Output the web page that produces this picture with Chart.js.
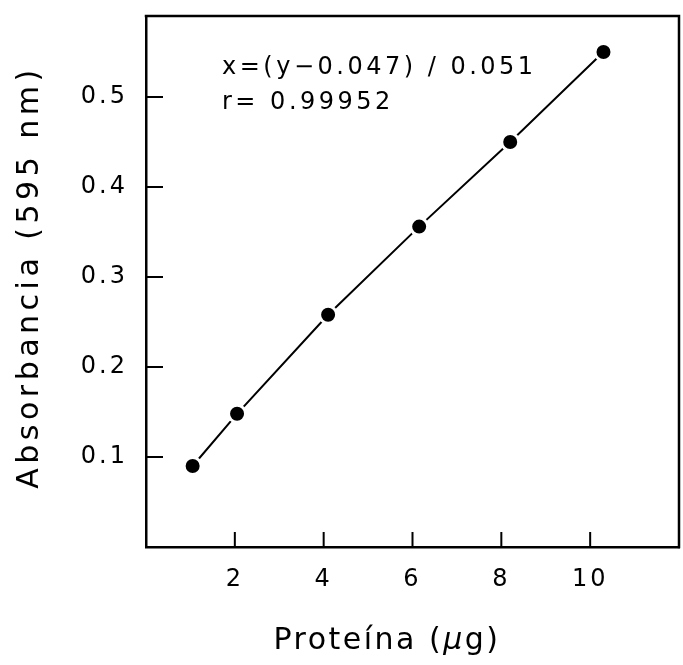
<!DOCTYPE html>
<html>
<head>
<meta charset="utf-8">
<script src="https://cdn.jsdelivr.net/npm/chart.js@4.4.1/dist/chart.umd.min.js"></script>
<style>
  html, body { margin: 0; padding: 0; background: #fff; }
  #wrap { width: 683px; height: 665px; }
</style>
</head>
<body>
<div id="wrap"><canvas id="c" width="683" height="665"></canvas></div>
<script>
// Data
const proteinUg = [1.05, 2.05, 4.1, 6.15, 8.2, 10.3];
const absorbance = [0.090, 0.148, 0.258, 0.356, 0.450, 0.550];
const xTickValues = [2, 4, 6, 8, 10];
const yTickValues = [0.1, 0.2, 0.3, 0.4, 0.5];
const xTitle = ['Proteína (', 'µ', 'g)'];
const yTitle = 'Absorbancia (595 nm)';
const fitText = ['x=(y\u22120.047) / 0.051', 'r= 0.99952'];

const FONT = '"DejaVu Sans", sans-serif';

const spacingPlugin = {
  id: 'spacing',
  beforeUpdate(chart) { chart.ctx.letterSpacing = '3px'; },
  beforeDraw(chart) { chart.ctx.letterSpacing = '3px'; }
};

function zeroPad(s) {
  s.paddingTop = 0; s.paddingBottom = 0; s.paddingLeft = 0; s.paddingRight = 0;
}

const framePlugin = {
  id: 'frame',
  afterDraw(chart) {
    const ctx = chart.ctx;
    const a = chart.chartArea;
    const xs = chart.scales.x, ys = chart.scales.y;
    ctx.save();
    ctx.strokeStyle = '#000';
    ctx.lineCap = 'square';
    // top and right frame
    ctx.lineWidth = 2.5;
    ctx.beginPath();
    ctx.moveTo(a.left, a.top);
    ctx.lineTo(a.right, a.top);
    ctx.lineTo(a.right, a.bottom);
    ctx.stroke();
    // inward tick marks
    ctx.lineWidth = 2;
    ctx.lineCap = 'butt';
    ctx.beginPath();
    xTickValues.forEach(v => {
      const px = xs.getPixelForValue(v);
      ctx.moveTo(px, a.bottom);
      ctx.lineTo(px, a.bottom - 15);
    });
    yTickValues.forEach(v => {
      const py = ys.getPixelForValue(v);
      ctx.moveTo(a.left, py);
      ctx.lineTo(a.left + 17, py);
    });
    ctx.stroke();

    ctx.fillStyle = '#000';
    // fit annotation
    ctx.font = '24px ' + FONT;
    ctx.letterSpacing = '3.5px';
    ctx.textAlign = 'left';
    ctx.textBaseline = 'middle';
    ctx.fillText(fitText[0], a.left + 76, a.top + 52);
    ctx.fillText(fitText[1], a.left + 76, a.top + 87);

    // y title
    ctx.font = '30px ' + FONT;
    ctx.letterSpacing = '4.5px';
    ctx.save();
    ctx.translate(30, 277);
    ctx.rotate(-Math.PI / 2);
    ctx.textAlign = 'center';
    ctx.fillText(yTitle, 0, 0);
    ctx.restore();

    // x title with italic mu
    ctx.letterSpacing = '2.5px';
    ctx.textAlign = 'left';
    const fonts = ['30px ' + FONT, 'italic 30px ' + FONT, '30px ' + FONT];
    let widths = xTitle.map((t, i) => { ctx.font = fonts[i]; return ctx.measureText(t).width; });
    const total = widths.reduce((s, w) => s + w, 0);
    let x = 387 - total / 2;
    xTitle.forEach((t, i) => {
      ctx.font = fonts[i];
      ctx.fillText(t, x, 641);
      x += widths[i];
    });
    ctx.restore();
  }
};

new Chart(document.getElementById('c'), {
  type: 'scatter',
  data: {
    datasets: [{
      data: proteinUg.map((v, i) => ({ x: v, y: absorbance[i] })),
      showLine: true,
      tension: 0,
      borderColor: '#000',
      borderWidth: 2,
      pointRadius: 8.5,
      pointHoverRadius: 8.5,
      pointBackgroundColor: '#000',
      pointBorderColor: '#fff',
      pointBorderWidth: 3
    }]
  },
  options: {
    responsive: false,
    animation: false,
    events: [],
    layout: { autoPadding: false, padding: { top: 16, right: 4, left: 0, bottom: 0 } },
    plugins: { legend: { display: false }, tooltip: { enabled: false } },
    scales: {
      x: {
        type: 'linear',
        min: 0, max: 12,
        afterFit(s) { s.height = 118; zeroPad(s); },
        grid: { display: false, drawTicks: false },
        border: { display: true, color: '#000', width: 2.5 },
        ticks: {
          stepSize: 2,
          padding: 18,
          color: '#000',
          font: { family: FONT, size: 24 },
          callback: v => xTickValues.includes(v) ? String(v) : ''
        }
      },
      y: {
        type: 'linear',
        min: 0, max: 0.59,
        afterFit(s) { s.width = 146; zeroPad(s); },
        grid: { display: false, drawTicks: false },
        border: { display: true, color: '#000', width: 2.5 },
        ticks: {
          stepSize: 0.1,
          padding: 18,
          color: '#000',
          font: { family: FONT, size: 24 },
          callback: v => yTickValues.some(t => Math.abs(t - v) < 1e-6) ? v.toFixed(1) : ''
        }
      }
    }
  },
  plugins: [spacingPlugin, framePlugin]
});
</script>
</body>
</html>
